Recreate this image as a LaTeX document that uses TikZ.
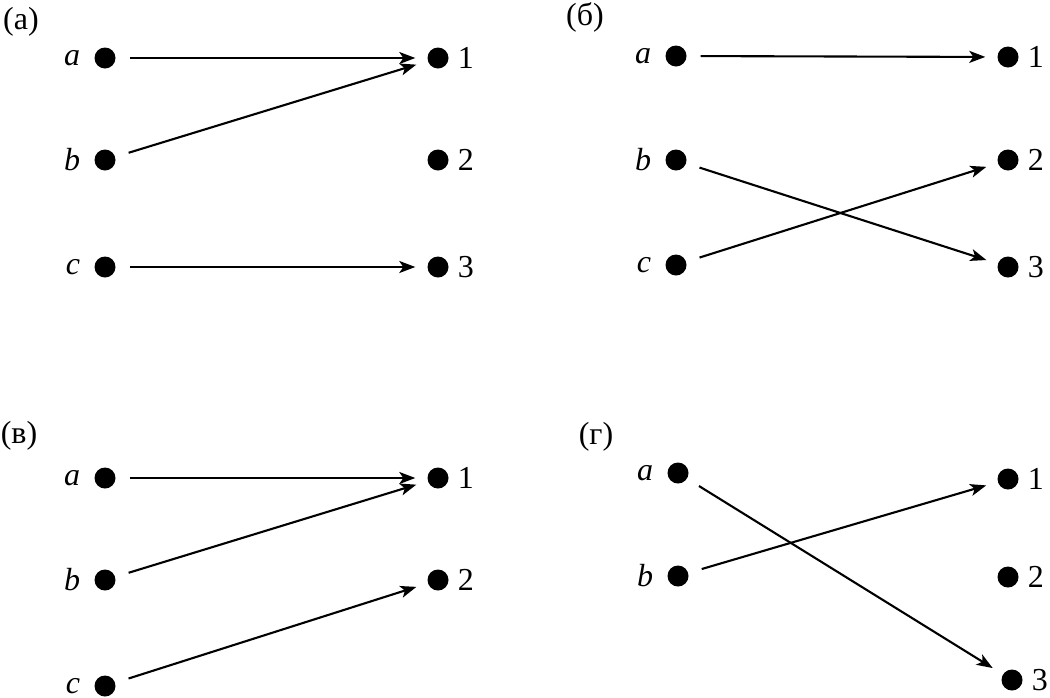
\documentclass[tikz,border=0pt]{standalone}
\usepackage{fontspec}
\setmainfont{Liberation Serif}
\usetikzlibrary{arrows.meta}
\begin{document}
\begin{tikzpicture}[x=1pt,y=-1pt,
  dot/.style={circle,fill=black,inner sep=0pt,minimum size=21pt},
  txt/.style={font=\fontsize{32}{34}\selectfont,inner sep=0pt},
  ldot/.style={dot,label={[txt,label distance=14pt]left:\textit{#1}}},
  rdot/.style={dot,label={[txt,label distance=9pt]right:#1}},
  arr/.style={line width=2.1pt,-{Stealth[length=16pt,width=12pt,inset=4pt]},shorten <=14pt,shorten >=12pt}
]
\useasboundingbox (0,0) rectangle (1050,697);
% (a)
\node[txt] (ta) at (21,22) {(а)};
\node[ldot=a] (aa) at (105,58) {};
\node[ldot=b] (ab) at (105,160) {};
\node[ldot=c] (ac) at (105,267) {};
\node[rdot=1] (a1) at (438,58) {};
\node[rdot=2] (a2) at (438,160) {};
\node[rdot=3] (a3) at (438,267) {};
\draw[arr] (aa) -- (a1);
\draw[arr] (ab) -- (a1);
\draw[arr] (ac) -- (a3);
% (b)
\node[txt] (tb) at (585,17) {(б)};
\node[ldot=a] (ba) at (676,56) {};
\node[ldot=b] (bb) at (676,160) {};
\node[ldot=c] (bc) at (676,265) {};
\node[rdot=1] (b1) at (1008,57) {};
\node[rdot=2] (b2) at (1008,160) {};
\node[rdot=3] (b3) at (1008,267) {};
\draw[arr] (ba) -- (b1);
\draw[arr] (bb) -- (b3);
\draw[arr] (bc) -- (b2);
% (v)
\node[txt] (tc) at (19,436) {(в)};
\node[ldot=a] (ca) at (105,478) {};
\node[ldot=b] (cb) at (105,580) {};
\node[ldot=c] (cc) at (105,686) {};
\node[rdot=1] (c1) at (438,478) {};
\node[rdot=2] (c2) at (438,580) {};
\draw[arr] (ca) -- (c1);
\draw[arr] (cb) -- (c1);
\draw[arr] (cc) -- (c2);
% (g)
\node[txt] (td) at (596,437) {(г)};
\node[ldot=a] (da) at (678,473) {};
\node[ldot=b] (db) at (678,576) {};
\node[rdot=1] (d1) at (1008,479) {};
\node[rdot=2] (d2) at (1008,577) {};
\node[rdot=3] (d3) at (1012,680) {};
\draw[arr] (da) -- (d3);
\draw[arr] (db) -- (d1);
\end{tikzpicture}
\end{document}
